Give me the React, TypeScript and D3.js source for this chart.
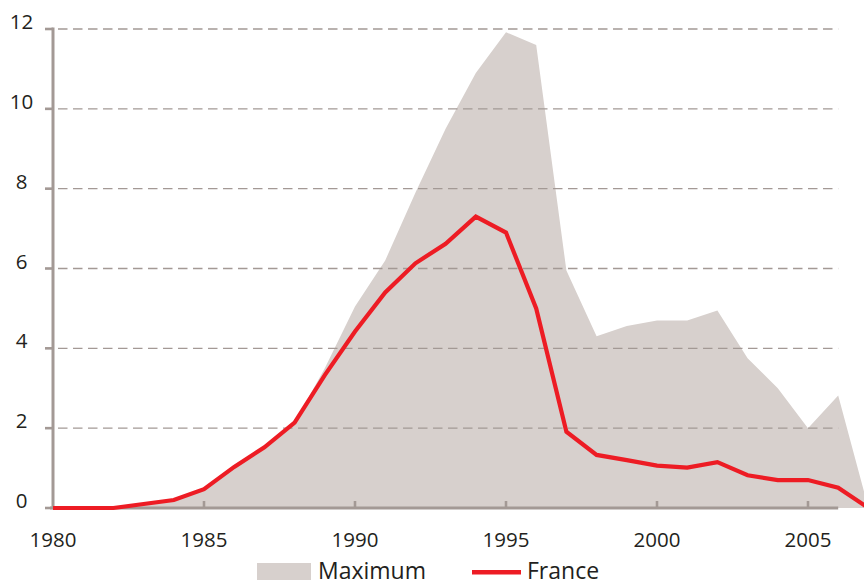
import React, { useEffect, useRef } from "react";
import * as d3 from "d3";

// years 1980..2007
const years = d3.range(1980, 2008);
const maximum = [
  0, 0, 0, 0.1, 0.2, 0.47, 1.03, 1.52, 2.14, 3.5, 5.05, 6.2, 7.9, 9.5,
  10.9, 11.92, 11.6, 5.95, 4.3, 4.56, 4.7, 4.7, 4.95, 3.75, 3.0, 2.0, 2.82, 0,
];
const france = [
  0, 0, 0, 0.1, 0.2, 0.47, 1.03, 1.52, 2.14, 3.33, 4.42, 5.4, 6.13, 6.62,
  7.3, 6.9, 5.0, 1.91, 1.33, 1.2, 1.06, 1.01, 1.15, 0.82, 0.7, 0.7, 0.51, 0,
];
const yTicks = [0, 2, 4, 6, 8, 10, 12];
const xTicks = [1980, 1985, 1990, 1995, 2000, 2005];
const legendLabels = ["Maximum", "France"];

const W = 864;
const H = 580;
const FONT = "'Open Sans', sans-serif";
const AREA = "#d7d0cd";
const RED = "#ed1c24";
const AXIS = "#a39995";
const TEXT = "#231f20";

export default function App() {
  const ref = useRef<SVGSVGElement>(null);

  useEffect(() => {
    drawChart();
  }, []);

  function drawChart() {
    const svg = d3.select(ref.current);
    svg.selectAll("*").remove();

    const x = d3.scaleLinear().domain([1980, 2007]).range([53, 53 + 27 * 30.2]);
    const y = d3.scaleLinear().domain([0, 12]).range([508, 29]);

    const area = d3
      .area<number>()
      .x((d, i) => x(years[i]))
      .y0(y(0))
      .y1((d) => y(d));
    svg.append("path").attr("d", area(maximum)).attr("fill", AREA);

    // dashed gridlines
    svg
      .append("g")
      .selectAll("line")
      .data(yTicks.filter((t) => t > 0))
      .join("line")
      .attr("x1", 58)
      .attr("x2", x(2006))
      .attr("y1", (d) => y(d))
      .attr("y2", (d) => y(d))
      .attr("stroke", AXIS)
      .attr("stroke-width", 1.4)
      .attr("stroke-dasharray", "9.5 5.5");

    // y axis
    const ya = svg.append("g");
    ya.append("line")
      .attr("x1", 53).attr("x2", 53)
      .attr("y1", y(12) - 1.5).attr("y2", y(0))
      .attr("stroke", AXIS).attr("stroke-width", 3);
    ya.selectAll(".tick")
      .data(yTicks)
      .join("line")
      .attr("x1", 45).attr("x2", 53)
      .attr("y1", (d) => y(d)).attr("y2", (d) => y(d))
      .attr("stroke", AXIS).attr("stroke-width", 2.6);
    ya.selectAll("text")
      .data(yTicks)
      .join("text")
      .attr("x", 21.5)
      .attr("y", (d) => y(d))
      .attr("text-anchor", "middle")
      .attr("font-family", FONT)
      .attr("font-size", 20.5)
      .attr("fill", TEXT)
      .text((d) => d);

    // x axis
    const xa = svg.append("g");
    xa.append("line")
      .attr("x1", 50).attr("x2", x(2006))
      .attr("y1", y(0)).attr("y2", y(0))
      .attr("stroke", AXIS).attr("stroke-width", 3);
    xa.selectAll(".tick")
      .data(xTicks.filter((t) => t > 1980))
      .join("line")
      .attr("x1", (d) => x(d)).attr("x2", (d) => x(d))
      .attr("y1", y(0)).attr("y2", y(0) - 7)
      .attr("stroke", AXIS).attr("stroke-width", 2.6);
    xa.selectAll("text")
      .data(xTicks)
      .join("text")
      .attr("x", (d) => x(d))
      .attr("y", 547)
      .attr("text-anchor", "middle")
      .attr("font-family", FONT)
      .attr("font-size", 20.5)
      .attr("fill", TEXT)
      .text((d) => d);

    // France line
    const line = d3
      .line<number>()
      .x((d, i) => x(years[i]))
      .y((d) => y(d));
    svg.append("path")
      .attr("d", line(france))
      .attr("fill", "none")
      .attr("stroke", RED)
      .attr("stroke-width", 4.2)
      .attr("stroke-linejoin", "miter");

    // legend
    const lg = svg.append("g").attr("font-family", FONT).attr("font-size", 23).attr("fill", TEXT);
    lg.append("rect").attr("x", 257).attr("y", 563).attr("width", 54).attr("height", 20).attr("fill", AREA);
    lg.append("text").attr("x", 318).attr("y", 578.5).text(legendLabels[0]);
    lg.append("line")
      .attr("x1", 472).attr("x2", 521)
      .attr("y1", 572.3).attr("y2", 572.3)
      .attr("stroke", RED).attr("stroke-width", 4.6);
    lg.append("text").attr("x", 527).attr("y", 578.5).text(legendLabels[1]);
  }

  return (
    <svg
      ref={ref}
      width={W}
      height={H}
      style={{ position: "absolute", left: 0, top: 0, background: "#fff" }}
    />
  );
}
